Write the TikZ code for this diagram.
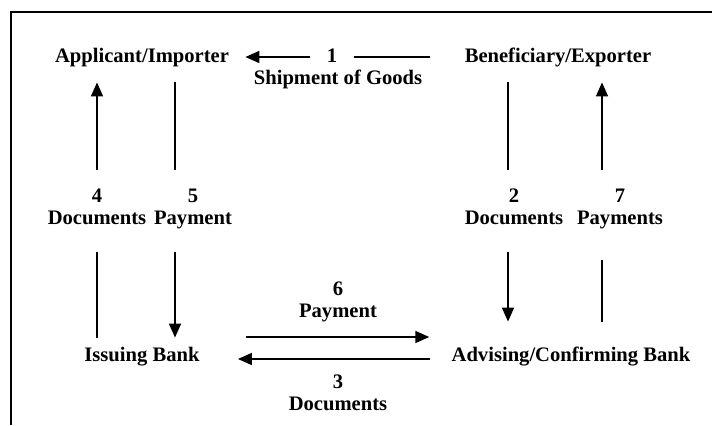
\documentclass[tikz,border=0pt]{standalone}
\usepackage{fontspec}
\setmainfont{Liberation Serif}
\usepackage{tikz}
\usetikzlibrary{arrows.meta, positioning}

\begin{document}
\begin{tikzpicture}[
  x=0.5pt, y=-0.5pt,
  font=\fontsize{10.3}{11}\selectfont\bfseries,
  party/.style={
    inner sep=2pt,
    text height=7pt,
    text depth=2pt
  },
  flowlabel/.style={
    align=center,
    inner sep=0pt,
    minimum height=41pt,
    execute at end node=\strut
  },
  arrow/.style={->, >={Triangle[length=7pt, width=6pt]}, line width=0.8pt},
  plain/.style={line width=0.8pt}
]
\useasboundingbox (0,0) rectangle (712,425);

% Frame
\draw[line width=1pt] (712,12) -- (11,12) -- (11,425);

% Parties
\node[party] (app) at (142,57) {Applicant/Importer};
\node[party] (ben) at (558,57) {Beneficiary/Exporter};
\node[party] (iss) at (142,356) {Issuing Bank};
\node[party] (adv) at (571,356) {Advising/Confirming Bank};

% Labels
\node[party, inner xsep=8pt] (lab1) at (332,57) {1};
\node[inner sep=0pt] (ship) at (338,79) {Shipment of Goods};
\node[flowlabel] (lab4) at (97,210) {4\\Documents};
\node[flowlabel] (lab5) at (193,210) {5\\Payment};
\node[flowlabel] (lab2) at (514,210) {2\\Documents};
\node[flowlabel] (lab7) at (620,210) {7\\Payments};
\node[flowlabel, minimum height=0pt] (lab6) at (338,303) {6\\Payment};
\node[flowlabel, minimum height=0pt] (lab3) at (338,396) {3\\Documents};

% Line positions
\coordinate (x4) at (97,0);
\coordinate (x5) at (175,0);
\coordinate (x2) at (508,0);
\coordinate (x7) at (602,0);

% Arrows
\draw[plain, shorten <=15pt] (ben.west) -- (lab1.east);
\draw[arrow, shorten >=6pt] (lab1.west) -- (app.east);

\draw[plain, shorten <=2.5pt, shorten >=0.5pt] (x4 |- iss.north) -- (x4 |- lab4.south);
\draw[arrow, shorten <=-0.5pt, shorten >=6pt] (x4 |- lab4.north) -- (x4 |- app.south);

\draw[plain, shorten <=6pt, shorten >=-0.5pt] (x5 |- app.south) -- (x5 |- lab5.north);
\draw[arrow, shorten <=0.5pt, shorten >=2.5pt] (x5 |- lab5.south) -- (x5 |- iss.north);

\draw[plain, shorten <=6pt, shorten >=-0.5pt] (x2 |- ben.south) -- (x2 |- lab2.north);
\draw[arrow, shorten <=0.5pt, shorten >=10.5pt] (x2 |- lab2.south) -- (x2 |- adv.north);

\draw[plain, shorten <=10.5pt, shorten >=4.5pt] (x7 |- adv.north) -- (x7 |- lab7.south);
\draw[arrow, shorten <=-0.5pt, shorten >=6pt] (x7 |- lab7.north) -- (x7 |- ben.south);

\draw[arrow, shorten <=21pt, shorten >=9pt]
  ([yshift=9.5pt]iss.east) -- ([yshift=9.5pt]adv.west);
\draw[arrow, shorten <=8.5pt, shorten >=17pt]
  ([yshift=-1.5pt]adv.west) -- ([yshift=-1.5pt]iss.east);

\end{tikzpicture}
\end{document}
